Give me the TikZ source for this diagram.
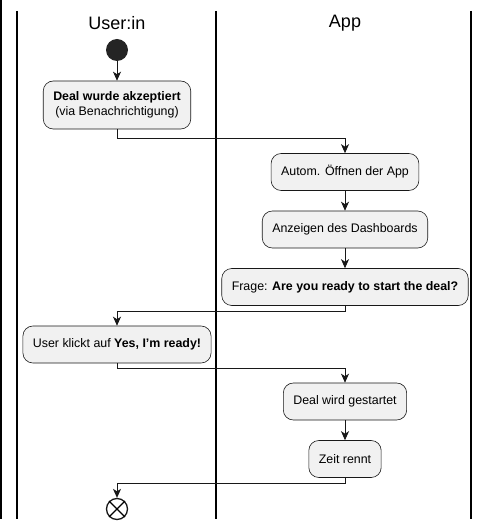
\documentclass[tikz,border=0pt]{standalone}
\usepackage{fontspec}
\setmainfont{Liberation Sans}
\usetikzlibrary{arrows.meta, positioning}
\definecolor{actfill}{HTML}{F1F1F1}
\definecolor{actline}{HTML}{181818}

\begin{document}
\begin{tikzpicture}[x=1pt, y=-1pt,
    action/.style={rectangle, rounded corners=10pt, draw=actline, line width=0.6pt, fill=actfill, minimum height=37pt, inner xsep=10pt, align=center, font=\fontsize{12.4}{15}\selectfont},
    flow/.style={-{Stealth[length=9pt, width=8pt, inset=2.5pt]}, line width=0.9pt, draw=actline},
    lane/.style={line width=1.4pt},
    lanetitle/.style={font=\fontsize{18}{20}\selectfont}]

    \useasboundingbox (0,0) rectangle (487,526);

    % Swimlanes
    \draw[lane] (1,0) -- (1,519);
    \draw[lane] (17,11) -- (17,519);
    \draw[lane] (216,11) -- (216,519);
    \draw[lane] (471,11) -- (471,519);
    \node[lanetitle] (user) at (117,23) {User:in};
    \node[lanetitle] (app) at (345,23) {App};

    % Start and stop
    \node[circle, fill=actline!95, minimum size=22pt, inner sep=0pt] (start) at (117,50) {};
    \node[circle, draw=actline, line width=1.3pt, minimum size=21pt, inner sep=0pt] (stop) at (117,509) {};
    \draw[line width=1.3pt] (stop.45) -- (stop.225) (stop.135) -- (stop.315);

    % Actions
    \node[action, minimum height=48pt] (accepted) at (117,105)
    {\textbf{Deal wurde akzeptiert} \\ (via Benachrichtigung)};
    \node[action] (open) at (345,172) {Autom. Öffnen der App};
    \node[action] (dashboard) at (345,229.5) {Anzeigen des Dashboards};
    \node[action] (question) at (345,287) {Frage: \textbf{Are you ready to start the deal?}};
    \node[action] (click) at (117,344.5) {User klickt auf \textbf{Yes, I{\char"27}m ready!}};
    \node[action] (started) at (345,401.5) {Deal wird gestartet};
    \node[action] (running) at (345,459) {Zeit rennt};

    % Arrows
    \draw[flow] (start) -- (accepted);
    \draw[flow] (accepted.south) -- ++(0,9) -| (open.north);
    \draw[flow] (open) -- (dashboard);
    \draw[flow] (dashboard) -- (question);
    \draw[flow] (question.south) -- ++(0,6) -| (click.north);
    \draw[flow] (click.south) -- ++(0,5) -| (started.north);
    \draw[flow] (started) -- (running);
    \draw[flow] (running.south) -- ++(0,6) -| (stop.north);

\end{tikzpicture}
\end{document}
